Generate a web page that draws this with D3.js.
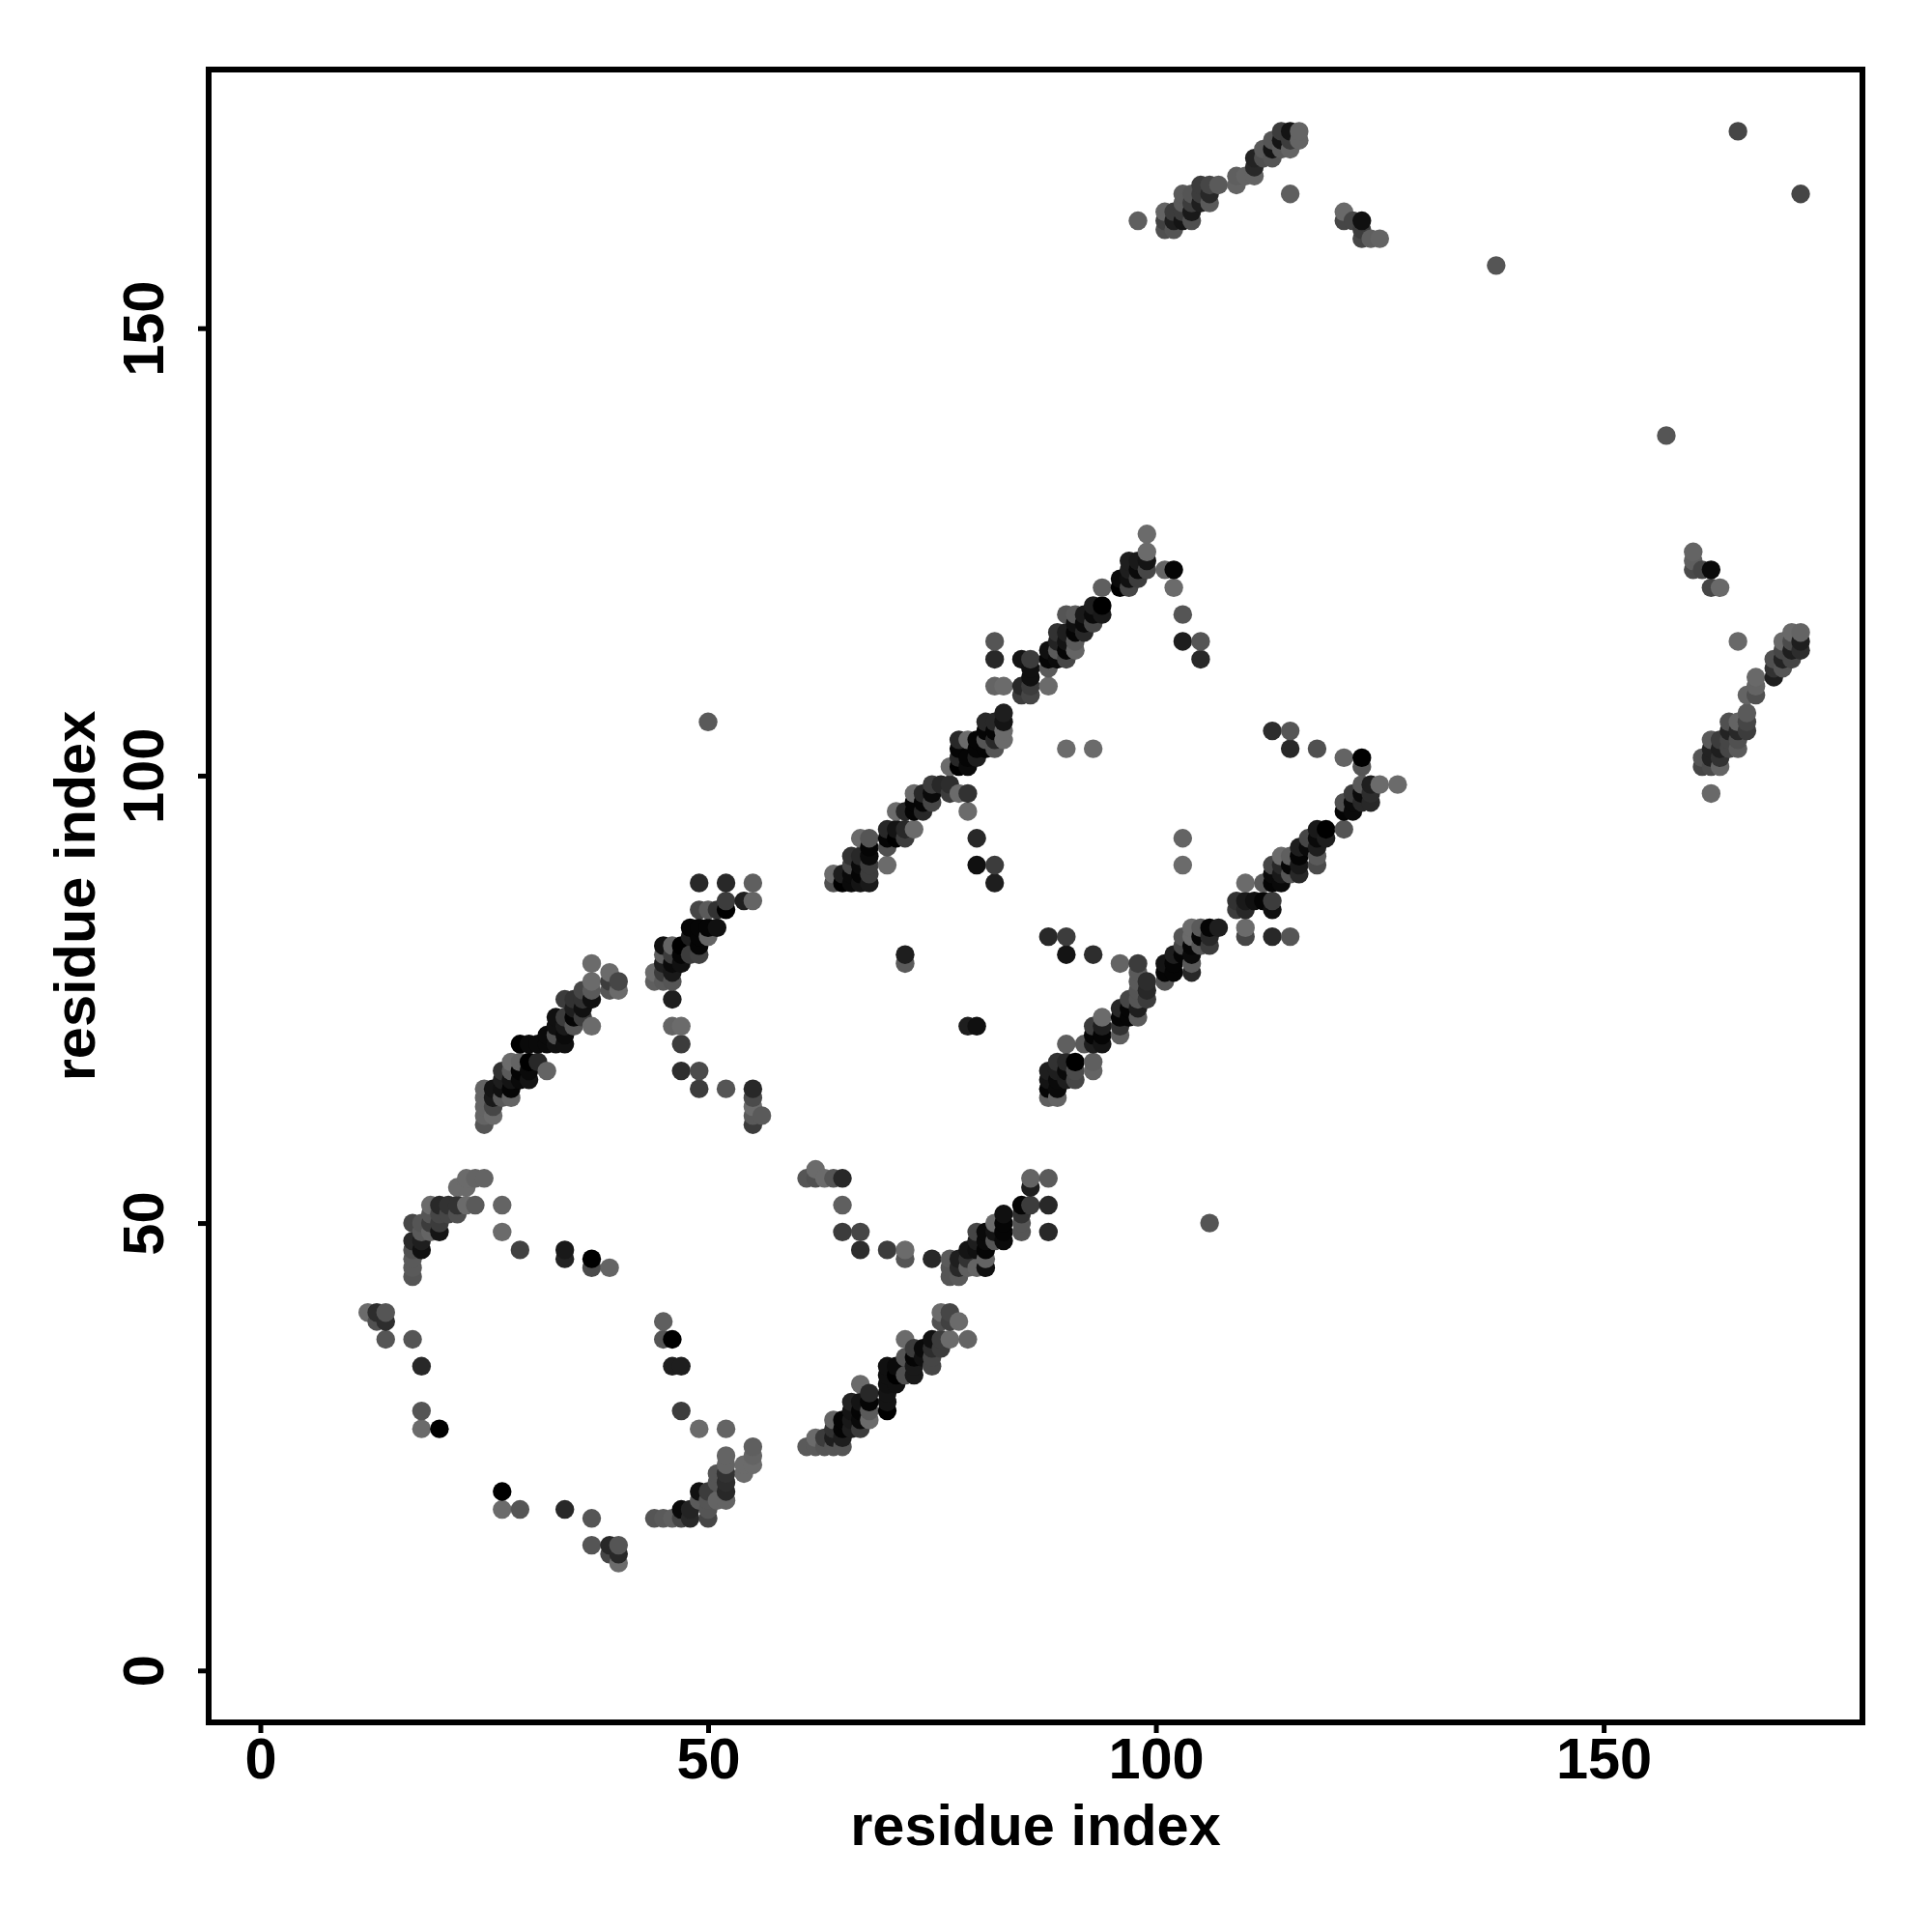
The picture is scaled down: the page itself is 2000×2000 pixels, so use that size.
<!DOCTYPE html>
<html><head><meta charset="utf-8">
<script src="https://cdnjs.cloudflare.com/ajax/libs/d3/7.8.5/d3.min.js"></script>
<style>html,body{margin:0;background:#fff}svg{display:block}</style></head>
<body><svg id="c" width="2000" height="2000"></svg>
<script>
// Each contact: [residue i, residue j, grey level 0-255]
const loopA = [[12,40,107],[13,39,80],[13,40,45],[14,37,85],[14,39,45],[14,40,85],[17,37,85],[17,44,85],[17,45,90],[17,46,90],[17,47,80],[17,48,40],[17,50,70],[18,27,107],[18,29,85],[18,34,40],[18,47,16],[18,48,30],[18,49,90],[18,50,85],[19,49,100],[19,50,60],[19,51,85],[19,52,107],[20,27,0],[20,49,20],[20,50,60],[20,51,70],[20,52,40],[21,51,70],[21,52,50],[22,51,80],[22,52,50],[22,54,107],[23,52,107],[23,54,107],[23,55,107],[24,52,90],[24,55,100],[25,55,100],[27,49,107],[27,52,100],[29,47,65],[34,46,35],[34,47,25],[37,45,75],[37,46,0],[39,45,100]];
const loopB = [[27,18,107],[27,20,0],[29,18,85],[34,18,40],[37,14,85],[37,17,85],[39,13,70],[39,14,40],[40,12,107],[40,13,40],[40,14,85],[45,37,85],[45,39,95],[46,34,30],[46,37,0],[47,34,30],[47,29,60],[49,27,107],[52,27,100]];
const strand1 = [[44,17,85],[45,17,90],[46,17,95],[47,17,70],[47,18,10],[48,17,40],[48,18,35],[49,19,90],[49,20,16],[50,17,70],[50,18,85],[50,19,85],[50,20,60],[51,19,100],[51,21,85],[51,22,85],[52,19,100],[52,20,40],[52,21,45],[52,22,50],[52,23,100],[52,24,100],[54,22,107],[54,23,107],[55,23,107],[55,24,100],[55,25,95]];
const strand2 = [[61,25,90],[62,25,90],[62,26,107],[63,25,85],[63,26,60],[64,25,85],[64,26,30],[64,27,50],[64,28,100],[65,25,85],[65,26,30],[65,27,5],[65,28,5],[66,27,30],[66,28,25],[66,29,20],[66,30,35],[67,27,60],[67,28,10],[67,29,5],[67,30,20],[67,32,107],[68,28,107],[68,29,90],[68,30,5],[68,31,40],[70,29,0],[70,30,20],[70,31,20],[70,32,16],[70,33,16],[70,34,16],[71,32,16],[71,33,0],[71,34,10],[72,33,80],[72,35,85],[72,37,107],[73,33,25],[73,34,25],[73,35,5],[73,36,60],[74,35,16],[74,36,10],[75,34,70],[75,35,70],[75,36,45],[75,37,16],[76,36,60],[76,37,60],[76,39,80],[76,40,107],[77,37,107],[77,39,65],[77,40,70],[78,39,107],[79,37,100]];
const arcC = [[61,55,85],[62,55,80],[62,56,107],[63,55,107],[64,55,85],[65,49,60],[65,52,95],[65,55,40],[67,47,45],[67,49,70],[70,47,60],[72,46,85],[72,47,107],[75,46,40],[77,44,85],[77,45,85],[77,46,90],[78,44,90],[78,45,40],[78,46,30],[79,45,95],[79,46,50],[79,47,20],[80,45,100],[80,47,16],[80,48,30],[80,49,70],[81,45,16],[81,46,100],[81,47,5],[81,48,10],[81,49,10],[82,48,85],[82,49,20],[82,50,107],[83,48,10],[83,49,5],[83,50,5],[83,51,16],[85,49,85],[85,50,85],[85,51,50],[85,52,5],[86,52,60],[86,54,30],[86,55,100],[88,49,40],[88,52,40],[88,55,90]];
const helix3 = [[25,61,85],[25,62,100],[25,63,100],[25,64,100],[25,65,100],[26,62,107],[26,63,70],[26,64,25],[26,65,20],[27,64,90],[27,65,16],[27,66,30],[27,67,50],[28,64,100],[28,65,5],[28,66,20],[28,67,90],[28,68,107],[29,66,10],[29,67,5],[29,68,100],[29,70,0],[30,66,20],[30,67,10],[30,68,0],[30,70,10],[31,68,40],[31,70,10],[32,67,100],[32,70,10],[32,71,10],[33,70,16],[33,71,80],[33,72,16],[33,73,16],[34,70,16],[34,71,10],[34,72,25],[34,73,60],[34,75,60],[35,72,85],[35,73,5],[35,74,30],[35,75,50],[36,73,60],[36,74,16],[36,75,50],[36,76,70],[37,72,107],[37,75,16],[37,76,90],[37,77,107],[37,79,107],[39,76,85],[39,77,60],[39,78,107],[40,76,107],[40,77,70]];
const arcD = [[46,72,100],[46,75,30],[47,70,60],[47,72,107],[47,67,45],[49,65,60],[49,67,75],[52,65,85],[55,61,60],[55,62,90],[55,63,107],[55,64,75],[55,65,40],[56,62,90]];
const strand4 = [[44,77,95],[44,78,107],[45,77,90],[45,78,60],[45,79,30],[45,80,95],[45,81,16],[46,77,85],[46,78,25],[46,79,10],[46,80,60],[46,81,100],[47,79,16],[47,80,5],[47,81,0],[48,80,60],[48,82,30],[48,83,5],[49,80,65],[49,81,5],[49,82,5],[49,83,5],[49,85,70],[49,88,40],[50,82,100],[50,83,5],[50,85,90],[51,83,16],[51,85,50],[52,85,0],[52,86,60],[52,88,40],[54,86,30],[55,86,100],[55,88,95]];
const helix5 = [[64,88,80],[64,89,107],[65,88,0],[65,89,30],[66,88,10],[66,89,10],[66,90,70],[66,91,50],[67,88,20],[67,89,5],[67,90,10],[67,91,40],[67,93,107],[68,88,25],[68,89,60],[68,90,60],[68,91,10],[68,92,5],[68,93,85],[70,90,107],[70,92,80],[70,93,5],[70,94,40],[71,93,0],[71,94,20],[71,96,107],[72,93,60],[72,94,40],[72,96,40],[73,94,107],[73,96,5],[73,97,5],[73,98,107],[74,96,40],[74,97,5],[74,98,40],[75,97,70],[75,98,10],[75,99,60],[76,99,40],[77,98,60],[77,99,45],[77,101,107],[78,98,107],[78,101,0],[78,102,40],[78,103,5],[78,104,40],[79,96,107],[79,98,50],[79,101,10],[79,102,5],[79,104,107],[80,90,16],[80,93,40],[80,102,30],[80,103,5],[80,104,5],[81,103,5],[81,104,85],[81,105,5],[81,106,40],[82,88,30],[82,90,60],[82,103,85],[82,104,40],[82,105,5],[82,106,40],[83,104,107],[83,105,107],[83,106,20],[83,107,30]];
const helix6 = [[72,79,90],[72,80,30],[79,72,30],[80,72,16],[82,110,100],[82,113,40],[82,115,85],[83,110,107],[85,109,60],[85,110,40],[85,113,20],[86,109,70],[86,110,60],[86,111,16],[86,112,16],[86,113,60],[88,110,107],[88,112,90],[88,113,5],[88,114,16],[89,113,10],[89,114,90],[89,115,35],[89,116,50],[90,113,70],[90,114,5],[90,115,20],[90,116,30],[90,118,85],[91,114,100],[91,115,90],[91,116,5],[91,117,16],[91,118,90],[92,116,40],[92,117,10],[92,118,25],[93,117,70],[93,118,10],[93,119,30],[94,118,25],[94,119,0],[94,121,95],[96,121,0],[96,122,10],[97,121,70],[97,122,16],[97,123,30],[97,124,30],[98,122,60],[98,123,10],[98,124,25],[99,123,70],[99,124,20],[99,125,107],[99,127,107],[101,123,100],[102,121,107],[102,123,5],[103,115,30],[103,118,85],[105,113,40],[105,115,85]];
const strand7 = [[88,64,95],[88,65,5],[88,66,20],[88,67,30],[88,82,40],[89,64,100],[89,65,10],[89,66,10],[89,67,30],[89,68,50],[90,66,30],[90,67,10],[90,68,40],[90,70,95],[90,80,20],[90,82,60],[91,66,70],[91,67,75],[91,68,0],[92,70,90],[93,67,100],[93,68,95],[93,70,30],[93,71,5],[93,72,60],[93,80,45],[94,70,20],[94,71,5],[94,72,30],[94,73,107],[96,71,95],[96,72,50],[96,73,5],[96,74,40],[96,79,100],[97,73,5],[97,74,5],[97,75,70],[98,73,90],[98,74,30],[98,75,85],[98,76,85],[98,77,90],[98,78,90],[98,79,60],[99,75,60],[99,76,40],[99,77,45]];
const strand8 = [[101,77,85],[101,78,5],[101,79,20],[102,78,5],[102,79,5],[102,80,30],[103,80,5],[103,81,70],[103,82,85],[104,78,40],[104,79,90],[104,80,10],[104,81,5],[104,82,107],[104,83,107],[105,81,85],[105,82,5],[105,83,90],[106,81,60],[106,82,40],[106,83,5],[107,83,30]];
const strand9 = [[109,85,60],[109,86,50],[110,82,70],[110,83,107],[110,85,40],[110,86,25],[110,88,107],[111,86,16],[112,86,5],[112,88,90],[113,82,40],[113,85,16],[113,86,60],[113,88,5],[113,89,10],[113,90,70],[114,88,10],[114,89,25],[114,90,40],[114,91,107],[115,82,85],[115,89,85],[115,90,5],[115,91,95],[115,103,40],[115,105,85],[113,105,45],[116,89,40],[116,90,25],[116,91,5],[116,92,30],[117,92,10],[117,93,70],[118,90,75],[118,91,90],[118,92,30],[118,93,10],[118,94,25],[118,103,80],[119,93,30],[119,94,0],[121,94,85],[121,96,5],[121,97,80],[121,102,100],[122,96,10],[122,97,10],[122,98,60],[123,97,40],[123,98,10],[123,99,90],[123,101,85],[123,102,0],[124,97,40],[124,98,45],[124,99,30],[125,99,107],[127,99,107]];
const topArm = [[98,162,95],[101,161,80],[101,162,65],[101,163,100],[102,161,85],[102,162,30],[102,163,60],[103,162,20],[103,163,60],[103,164,90],[103,165,90],[104,162,80],[104,163,25],[104,164,60],[104,165,85],[105,164,30],[105,165,60],[105,166,60],[106,164,90],[106,165,40],[106,166,70],[107,166,90],[109,166,100],[109,167,95],[110,167,100],[111,167,100],[111,168,40],[111,169,35],[112,169,80],[112,170,90],[113,169,85],[113,170,20],[113,171,85],[114,170,90],[114,171,20],[114,172,60],[115,165,95],[115,170,100],[115,171,60],[115,172,20],[116,171,100],[116,172,100],[121,162,70],[121,163,105],[122,162,70],[123,160,70],[123,161,60],[123,162,16],[124,160,95],[125,160,100]];
const rightArm = [[160,123,75],[160,124,95],[160,125,100],[161,123,70],[162,121,70],[162,123,10],[163,121,105],[161,101,70],[161,102,85],[162,98,105],[162,101,75],[162,102,35],[162,103,35],[162,104,90],[163,101,100],[163,102,50],[163,103,30],[163,104,60],[164,103,70],[164,104,70],[164,105,35],[164,106,80],[165,103,90],[165,104,80],[165,105,40],[165,106,100],[165,115,105],[166,105,60],[166,106,70],[166,107,90],[166,109,100],[167,109,80],[167,110,100],[167,111,105],[169,111,30],[169,112,50],[169,113,80],[170,112,85],[170,113,35],[170,114,70],[170,115,105],[171,113,70],[171,114,30],[171,115,75],[171,116,105],[172,114,45],[172,115,30],[172,116,100]];
const isolated = [[50,106,90],[106,50,85],[90,103,107],[93,103,107],[103,90,107],[103,93,100],[138,157,85],[157,138,85],[165,172,70],[172,165,70]];

const xTicks = [0,50,100,150];
const yTicks = [0,50,100,150];
const axisTitle = "residue index";

const contacts = [loopA,loopB,strand1,strand2,arcC,helix3,arcD,strand4,helix5,helix6,strand7,strand8,strand9,topArm,rightArm,isolated].flat()
  .sort((a,b)=>d3.ascending(a[0],b[0])||d3.ascending(a[1],b[1]));

const L=216,R=1928,T=72,B=1783;
const x=d3.scaleLinear().domain([-5.77,178.9]).range([L,R]);
const y=d3.scaleLinear().domain([-5.8,178.9]).range([B,T]);
const svg=d3.select("#c");
const font='"Liberation Sans",Arial,sans-serif';
const fs=59.5;

svg.append("g").selectAll("circle").data(contacts).join("circle")
  .attr("cx",d=>x(d[0])).attr("cy",d=>y(d[1])).attr("r",9.7)
  .attr("fill",d=>d3.rgb(d[2],d[2],d[2]));

const gx=svg.append("g").attr("transform",`translate(0,${B})`)
  .call(d3.axisBottom(x).tickValues(xTicks).tickSize(11).tickPadding(8));
const gy=svg.append("g").attr("transform",`translate(${L},0)`)
  .call(d3.axisLeft(y).tickValues(yTicks).tickSize(11).tickPadding(8));
[gx,gy].forEach(g=>{
  g.select(".domain").remove();
  g.selectAll("line").attr("stroke","#000").attr("stroke-width",5);
  g.selectAll("text").attr("font-family",font).attr("font-weight","bold").attr("font-size",fs).attr("fill","#000");
});
gx.selectAll("text").attr("y",0).attr("dy",0).attr("transform","translate(0,58)").attr("text-anchor","middle");
gy.selectAll("text").attr("x",0).attr("dy",0).attr("text-anchor","middle").attr("transform","translate(-47,0) rotate(-90)");

svg.append("rect").attr("x",L).attr("y",T).attr("width",R-L).attr("height",B-T)
  .attr("fill","none").attr("stroke","#000").attr("stroke-width",6);

svg.append("text").attr("x",(L+R)/2).attr("y",1910).attr("text-anchor","middle")
  .attr("font-family",font).attr("font-weight","bold").attr("font-size",fs).text(axisTitle);
svg.append("text").attr("transform",`translate(98,${(T+B)/2}) rotate(-90)`).attr("text-anchor","middle")
  .attr("font-family",font).attr("font-weight","bold").attr("font-size",fs).text(axisTitle);
</script></body></html>
